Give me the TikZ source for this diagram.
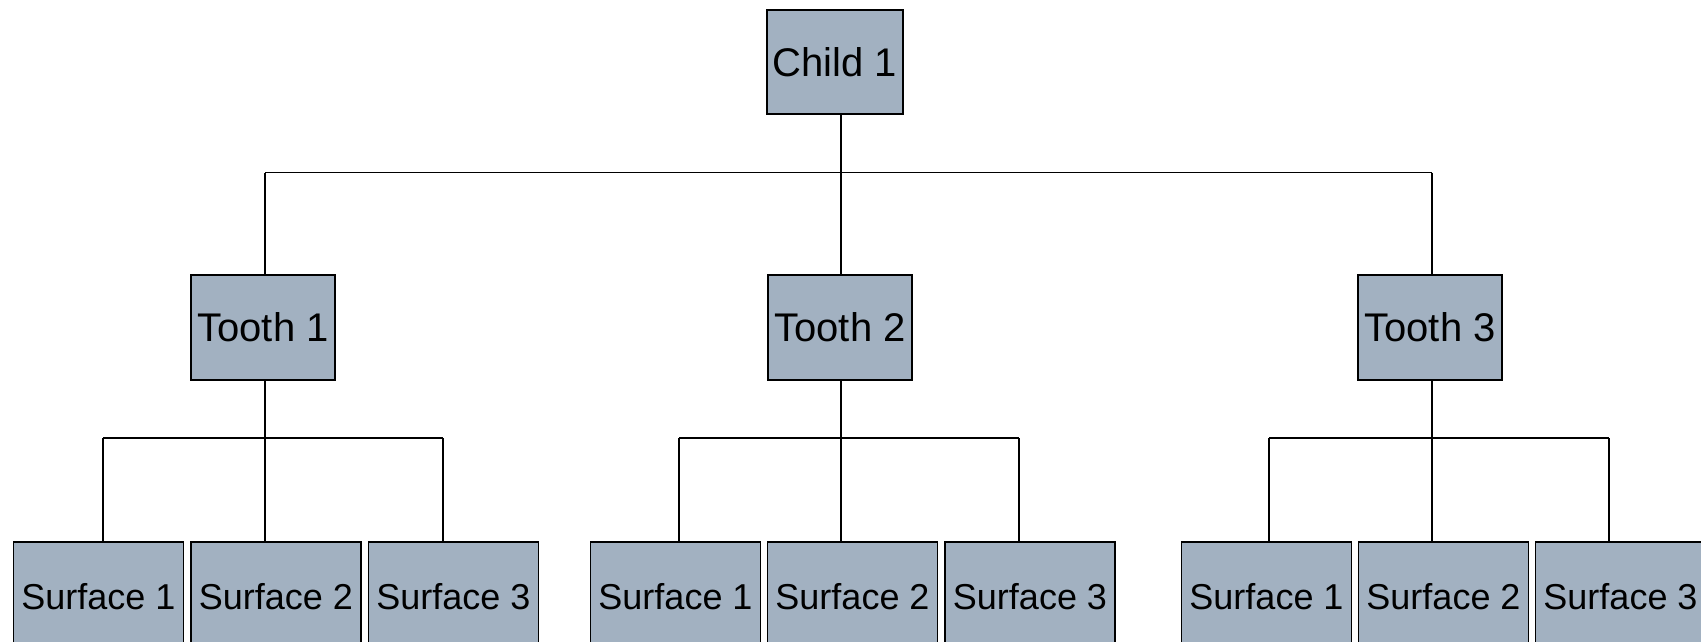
\documentclass[tikz,border=0pt]{standalone}
\usepackage{fontspec}
\setmainfont{Liberation Sans}
\definecolor{boxfill}{RGB}{162,177,193}
\tikzset{
  nodebox/.style={draw=black, fill=boxfill, line width=1.6pt, rectangle, inner sep=0pt, anchor=center},
  bigbox/.style={nodebox, font=\fontsize{40}{48}\selectfont},
  surfbox/.style={nodebox, font=\fontsize{36}{43}\selectfont, minimum width=170pt, minimum height=110pt},
  conn/.style={draw=black, line width=1.3pt}
}
\begin{document}
\begin{tikzpicture}[x=1pt,y=-1pt]
\useasboundingbox (0,0) rectangle (1701,642);
\clip (0,0) rectangle (1701,642);
% top
\node[bigbox, minimum width=136pt, minimum height=104pt] (child) at (835,62) {Child 1};
\node[bigbox, minimum width=144pt, minimum height=105pt] (t1) at (263,327.5) {Tooth 1};
\node[bigbox, minimum width=144pt, minimum height=105pt] (t2) at (840,327.5) {Tooth 2};
\node[bigbox, minimum width=144pt, minimum height=105pt] (t3) at (1430,327.5) {Tooth 3};
% surfaces
\node[surfbox] (s11) at (98.5,597) {Surface 1};
\node[surfbox] (s12) at (276,597) {Surface 2};
\node[surfbox] (s13) at (453.5,597) {Surface 3};
\node[surfbox] (s21) at (675.5,597) {Surface 1};
\node[surfbox] (s22) at (852.5,597) {Surface 2};
\node[surfbox] (s23) at (1030,597) {Surface 3};
\node[surfbox] (s31) at (1266.5,597) {Surface 1};
\node[surfbox] (s32) at (1443.5,597) {Surface 2};
\node[surfbox] (s33) at (1620.5,597) {Surface 3};
% connector junctions
\coordinate (T1) at (265,172.5);
\coordinate (T2) at (841,172.5);
\coordinate (T3) at (1432,172.5);
\coordinate (L1) at (103,438);
\coordinate (L2) at (265,438);
\coordinate (L3) at (443,438);
\coordinate (M1) at (679,438);
\coordinate (M2) at (841,438);
\coordinate (M3) at (1019,438);
\coordinate (R1) at (1269,438);
\coordinate (R2) at (1432,438);
\coordinate (R3) at (1609,438);
% level 1
\draw[conn] (child.south -| T2) -- (T2);
\draw[conn] (T1) -- (T3);
\draw[conn] (T1) -- (t1.north -| T1);
\draw[conn] (T2) -- (t2.north -| T2);
\draw[conn] (T3) -- (t3.north -| T3);
% level 2 left
\draw[conn] (t1.south -| L2) -- (L2);
\draw[conn] (L1) -- (L3);
\draw[conn] (L1) -- (s11.north -| L1);
\draw[conn] (L2) -- (s12.north -| L2);
\draw[conn] (L3) -- (s13.north -| L3);
% level 2 middle
\draw[conn] (t2.south -| M2) -- (M2);
\draw[conn] (M1) -- (M3);
\draw[conn] (M1) -- (s21.north -| M1);
\draw[conn] (M2) -- (s22.north -| M2);
\draw[conn] (M3) -- (s23.north -| M3);
% level 2 right
\draw[conn] (t3.south -| R2) -- (R2);
\draw[conn] (R1) -- (R3);
\draw[conn] (R1) -- (s31.north -| R1);
\draw[conn] (R2) -- (s32.north -| R2);
\draw[conn] (R3) -- (s33.north -| R3);
\end{tikzpicture}
\end{document}
